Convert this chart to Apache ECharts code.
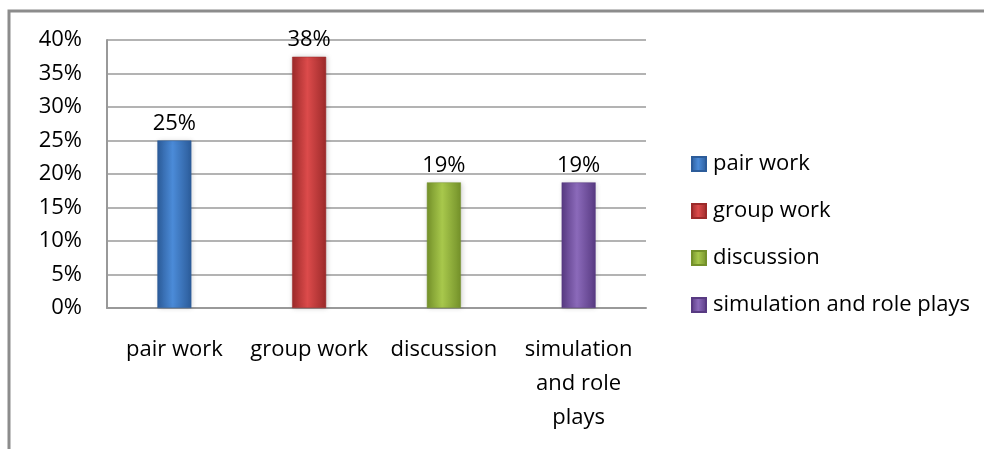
<!DOCTYPE html>
<html>
<head>
<meta charset="utf-8">
<script src="https://cdn.jsdelivr.net/npm/echarts@6/dist/echarts.min.js"></script>
<style>
html,body{margin:0;padding:0;background:#fff;}
#chart{width:984px;height:449px;}
</style>
</head>
<body>
<div id="chart"></div>
<script>
var categories = ['pair work', 'group work', 'discussion', 'simulation and role plays'];
var axisLabels = ['pair work', 'group work', 'discussion', 'simulation\nand role\nplays'];
var values = [25, 37.5, 18.75, 18.75];
var yTicks = [0, 5, 10, 15, 20, 25, 30, 35, 40];
var palette = [
  ['#2c5c9a', '#4b8bd8'],
  ['#9c2a2a', '#dc4b4b'],
  ['#74912a', '#a8c84c'],
  ['#583a82', '#8b6aba']
];
var FONT = 'Open Sans';
var FS = 22;

var chart = echarts.init(document.getElementById('chart'), null, {renderer: 'canvas'});

function grad(c) {
  return new echarts.graphic.LinearGradient(0, 0, 1, 0, [
    {offset: 0, color: c[0]},
    {offset: 0.45, color: c[1]},
    {offset: 1, color: c[0]}
  ]);
}

var series = categories.map(function (name, i) {
  return {
    name: name,
    type: 'bar',
    stack: 'one',
    barWidth: 34,
    data: categories.map(function (c, j) { return j === i ? values[i] : '-'; }),
    itemStyle: {
      color: grad(palette[i]),
      borderColor: palette[i][0],
      borderWidth: 0.5,
      shadowColor: 'rgba(0,0,0,0.18)',
      shadowBlur: 5,
      shadowOffsetX: 1
    },
    label: {
      show: true,
      position: 'top',
      distance: 6,
      fontFamily: FONT,
      fontSize: FS,
      color: '#000',
      formatter: function (p) { return Math.round(p.value) + '%'; }
    }
  };
});

chart.setOption({
  backgroundColor: '#fff',
  animation: false,
  graphic: [{
    type: 'rect',
    shape: {x: 9, y: 11, width: 1000, height: 460},
    style: {fill: 'none', stroke: '#8c8c8c', lineWidth: 3},
    silent: true
  }],
  grid: {left: 107, right: 338, top: 40, bottom: 141},
  legend: {
    orient: 'vertical',
    left: 686,
    top: 148,
    itemWidth: 14,
    itemHeight: 14,
    itemGap: 25,
    icon: 'rect',
    data: categories,
    textStyle: {fontFamily: FONT, fontSize: FS, color: '#000', padding: [0, 0, 0, 2]}
  },
  xAxis: {
    type: 'category',
    data: axisLabels,
    axisLine: {show: true, lineStyle: {color: '#999', width: 2}},
    axisTick: {show: false},
    axisLabel: {
      interval: 0,
      margin: 25,
      fontFamily: FONT,
      fontSize: FS,
      lineHeight: 34,
      color: '#000',
      align: 'center'
    }
  },
  yAxis: {
    type: 'value',
    min: yTicks[0],
    max: yTicks[yTicks.length - 1],
    interval: 5,
    axisLine: {show: true, lineStyle: {color: '#999', width: 2}},
    axisTick: {show: false},
    splitLine: {show: true, lineStyle: {color: '#9a9a9a', width: 1.5}},
    axisLabel: {
      margin: 25,
      fontFamily: FONT,
      fontSize: FS,
      color: '#000',
      formatter: function (v) { return v + '%'; }
    }
  },
  series: series
});
</script>
</body>
</html>
